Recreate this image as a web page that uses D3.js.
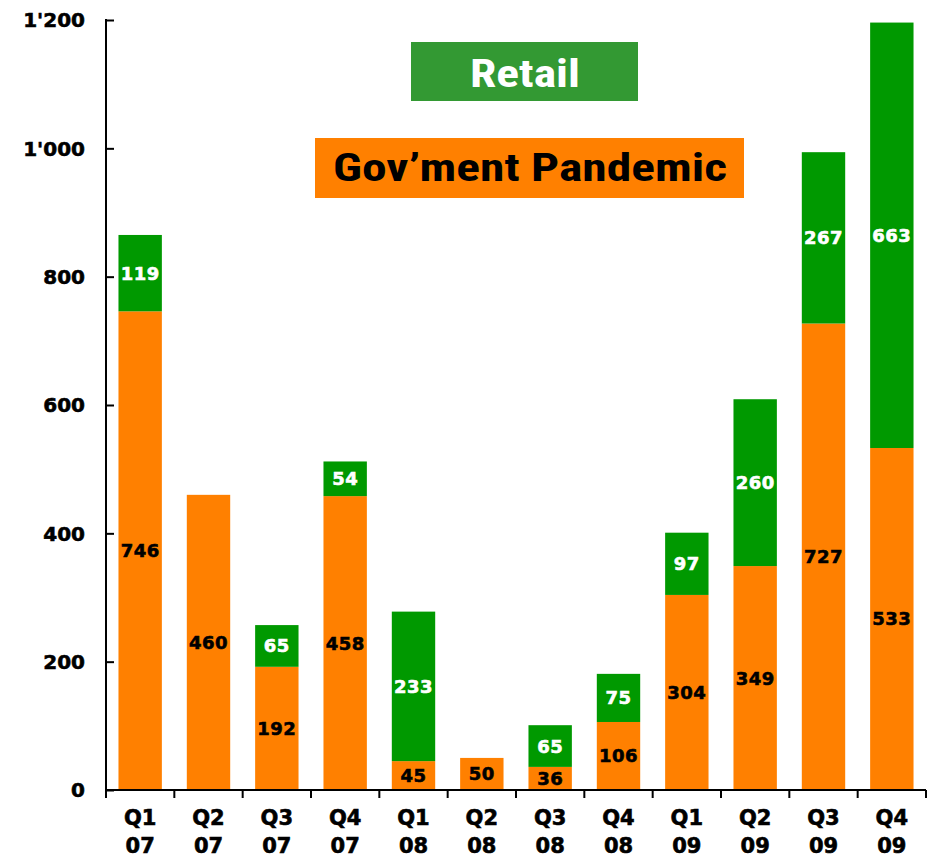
<!DOCTYPE html>
<html><head><meta charset="utf-8">
<script src="https://cdn.jsdelivr.net/npm/d3@7"></script>
<style>body{margin:0;background:#fff}svg{display:block}</style>
</head><body>
<svg id="c" width="932" height="859"></svg>
<script>
const quarters = ["Q1","Q2","Q3","Q4","Q1","Q2","Q3","Q4","Q1","Q2","Q3","Q4"];
const years    = ["07","07","07","07","08","08","08","08","09","09","09","09"];
const govPandemic = [746,460,192,458,45,50,36,106,304,349,727,533];
const retail      = [119,0,65,54,233,0,65,75,97,260,267,663];
const yTicks = [0,200,400,600,800,1000,1200];
const seriesNames = ["Gov’ment Pandemic","Retail"];

const svg = d3.select("#c");
const x0 = 106, x1 = 926, yTop = 20, yBot = 790;
const cats = quarters.map((q,i)=>i);
const x = d3.scaleBand().domain(cats).range([x0,x1]).paddingInner(0.365).paddingOuter(0.1825);
const y = d3.scaleLinear().domain([0,1200]).range([yBot,yTop]);
const numFont = "'DejaVu Sans', Verdana, sans-serif";
const fmt = v => { const s = String(v); return s.length>3 ? s.slice(0,-3)+"'"+s.slice(-3) : s; };

const data = cats.map(i=>({i, gov:govPandemic[i], ret:retail[i]}));
const stack = d3.stack().keys(["gov","ret"])(data);
const colors = {gov:"#ff8000", ret:"#009900"};
const textCol = {gov:"#000", ret:"#fff"};

stack.forEach(layer=>{
  const g = svg.append("g");
  g.selectAll("rect").data(layer).join("rect")
    .attr("x", d=>x(d.data.i)).attr("width", x.bandwidth())
    .attr("y", d=>y(d[1])).attr("height", d=>y(d[0])-y(d[1]))
    .attr("fill", colors[layer.key]);
  g.selectAll("text").data(layer.filter(d=>d[1]-d[0]>0)).join("text")
    .attr("x", d=>x(d.data.i)+x.bandwidth()/2)
    .attr("y", d=>(y(d[0])+y(d[1]))/2)
    .attr("dy","0.36em").attr("text-anchor","middle")
    .attr("font-family", numFont).attr("font-weight","bold").attr("font-size",18)
    .attr("letter-spacing","0.5px")
    .attr("fill", textCol[layer.key])
    .attr("stroke", textCol[layer.key]).attr("stroke-width",0.6)
    .text(d=>d[1]-d[0]);
});

// Y axis
const ya = svg.append("g").attr("transform",`translate(${x0},0)`)
  .call(d3.axisRight(y).tickValues(yTicks).tickSize(8).tickFormat(""));
ya.select(".domain").attr("stroke","#000").attr("stroke-width",2).attr("d",`M0,${yTop-1}V${yBot}`);
ya.selectAll(".tick line").attr("stroke","#000").attr("stroke-width",2);
svg.append("g").selectAll("text").data(yTicks).join("text")
  .attr("x",85).attr("y",d=>y(d)).attr("dy","0.36em").attr("text-anchor","end")
  .attr("font-family",numFont).attr("font-weight","bold").attr("font-size",20)
  .attr("stroke","#000").attr("stroke-width",0.6)
  .text(fmt);

// X axis
const xa = svg.append("g").attr("transform",`translate(0,${yBot})`);
xa.append("line").attr("x1",x0).attr("x2",x1).attr("stroke","#000").attr("stroke-width",2);
const bounds = d3.range(13).map(k=>x0 + k*x.step());
xa.selectAll("line.t").data(bounds).join("line").attr("class","t")
  .attr("x1",d=>d).attr("x2",d=>d).attr("y1",0).attr("y2",8)
  .attr("stroke","#000").attr("stroke-width",2);
const xl = svg.append("g").selectAll("text").data(cats).join("text")
  .attr("text-anchor","middle")
  .attr("font-family",numFont).attr("font-weight","bold").attr("font-size",21)
  .attr("stroke","#000").attr("stroke-width",0.6)
  .attr("x",d=>x(d)+x.bandwidth()/2);
xl.append("tspan").attr("x",d=>x(d)+x.bandwidth()/2).attr("y",825).text(d=>quarters[d]);
xl.append("tspan").attr("x",d=>x(d)+x.bandwidth()/2).attr("y",853).text(d=>years[d]);

// Legend
const legFont = "'Liberation Sans Narrow','Roboto Condensed','Liberation Sans',Arial,sans-serif";
svg.append("rect").attr("x",411).attr("y",42).attr("width",227).attr("height",59).attr("fill","#339933");
svg.append("text").attr("x",525).attr("y",87).attr("text-anchor","middle")
  .attr("font-family",legFont).attr("font-weight","bold").attr("font-size",39).attr("fill","#fff")
  .attr("textLength",110).attr("lengthAdjust","spacingAndGlyphs")
  .text(seriesNames[1]);
svg.append("rect").attr("x",315).attr("y",138).attr("width",429).attr("height",60).attr("fill","#ff8000");
svg.append("text").attr("x",530).attr("y",181).attr("text-anchor","middle")
  .attr("font-family",legFont).attr("font-weight","bold").attr("font-size",38).attr("fill","#000")
  .attr("textLength",394).attr("lengthAdjust","spacingAndGlyphs")
  .text(seriesNames[0]);
</script>
</body></html>
